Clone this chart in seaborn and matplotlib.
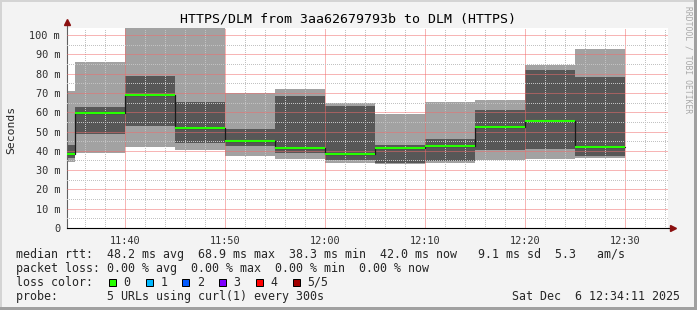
import matplotlib
matplotlib.use("Agg")
import matplotlib.pyplot as plt
import seaborn as sns
import pandas as pd
from matplotlib.patches import Rectangle
from matplotlib.ticker import MultipleLocator

# ---------------- data ----------------
step_starts = ["11:30", "11:35", "11:40", "11:45", "11:50", "11:55",
               "12:00", "12:05", "12:10", "12:15", "12:20", "12:25"]
step_end = "12:30"
ping_min = [34.4, 39.0, 42.0, 40.4, 37.5, 35.7, 33.8, 33.0, 33.8, 35.2, 35.6, 36.4]
ping_low = [36.4, 48.7, 52.8, 44.2, 42.5, 39.0, 35.2, 33.8, 34.9, 40.4, 40.8, 37.3]
ping_median = [38.3, 59.6, 68.9, 52.0, 45.2, 41.6, 38.3, 41.5, 42.3, 52.5, 55.6, 42.1]
ping_high = [43.0, 62.5, 78.8, 65.3, 51.3, 68.4, 63.2, 43.0, 46.1, 61.1, 81.9, 78.2]
ping_max = [71.1, 86.0, 104.0, 104.0, 69.9, 72.0, 64.8, 59.1, 65.3, 66.3, 84.5, 92.7]

x_tick_labels = ["11:40", "11:50", "12:00", "12:10", "12:20", "12:30"]
y_ticks = [0, 10, 20, 30, 40, 50, 60, 70, 80, 90, 100]
y_tick_labels = ["0", "10 m", "20 m", "30 m", "40 m", "50 m", "60 m", "70 m", "80 m", "90 m", "100 m"]
window_start = "11:34:11"
window_end = "12:34:17"

title = "HTTPS/DLM from 3aa62679793b to DLM (HTTPS)"
legend_rtt = "median rtt:  48.2 ms avg  68.9 ms max  38.3 ms min  42.0 ms now   9.1 ms sd  5.3   am/s"
legend_loss = "packet loss: 0.00 % avg  0.00 % max  0.00 % min  0.00 % now"
loss_labels = ["0", "1", "2", "3", "4", "5/5"]
loss_colors = ["#26ff00", "#00b8ff", "#0059ff", "#7e00ff", "#ff0000", "#a10000"]
probe_text = "probe:       5 URLs using curl(1) every 300s"
date_text = "Sat Dec  6 12:34:11 2025"
watermark = "RRDTOOL / TOBI OETIKER"


def to_min(s):
    p = s.split(":")
    sec = int(p[2]) if len(p) > 2 else 0
    return int(p[0]) * 60 + int(p[1]) + sec / 60.0


# ---------------- figure ----------------
sns.set_style("white")
plt.rcParams["font.family"] = ["DejaVu Sans Mono", "DejaVu Sans"]

W, H = 697, 310
BG = "#f3f3f3"
fig = plt.figure(figsize=(W / 100, H / 100), dpi=100, facecolor=BG)

ax_left, ax_right, ax_top, ax_bottom = 67, 668, 27.5, 228
ax = fig.add_axes([ax_left / W, (H - ax_bottom) / H,
                   (ax_right - ax_left) / W, (ax_bottom - ax_top) / H])
ax.set_facecolor("white")

starts = [to_min(s) for s in step_starts]
end = to_min(step_end)
xs = starts + [end]
ends = starts[1:] + [end]


def ext(v):
    return list(v) + [v[-1]]


ax.fill_between(xs, ext(ping_min), ext(ping_max), step="post",
                color="#a2a2a2", lw=0, zorder=1)
ax.fill_between(xs, ext(ping_low), ext(ping_high), step="post",
                color="#575757", lw=0, zorder=1.2)

df = pd.DataFrame({"t": xs, "median": ext(ping_median)})
sns.lineplot(data=df, x="t", y="median", ax=ax, drawstyle="steps-post",
             color="#1a1a1a", lw=0.9, zorder=4, legend=False)
ax.hlines(ping_median, starts, ends, colors="#26ff00", lw=1.5, zorder=5)

# axes limits / ticks
ax.set_xlim(to_min(window_start), to_min(window_end))
ax.set_ylim(0, 103.9)
ax.set_xlabel("")
ax.set_ylabel("")

ax.set_xticks([to_min(t) for t in x_tick_labels])
ax.set_xticklabels(x_tick_labels)
ax.xaxis.set_minor_locator(MultipleLocator(2))
ax.set_yticks(y_ticks)
ax.set_yticklabels(y_tick_labels)
ax.yaxis.set_minor_locator(MultipleLocator(5))

ax.tick_params(axis="both", which="major", labelsize=7.4, colors="#303030",
               length=3, width=0.7, direction="out", pad=2)
ax.tick_params(axis="both", which="minor", length=1.5, width=0.7,
               direction="out", colors="#606060")
ax.tick_params(axis="x", which="major", pad=3)

ax.set_axisbelow(False)
ax.grid(which="major", color="#f06c6c", lw=0.72, linestyle=(0, (1, 1)), zorder=2)
ax.grid(which="minor", color="#c2c2c2", lw=0.72, linestyle=(0, (1, 2)), zorder=2)
for axis in (ax.xaxis, ax.yaxis):
    for t in axis.get_minor_ticks():
        t.gridline.set_antialiased(False)

for side in ["top", "right"]:
    ax.spines[side].set_visible(False)
ax.spines["left"].set_color("#606060")
ax.spines["left"].set_linewidth(0.8)
ax.spines["bottom"].set_color("#000000")
ax.spines["bottom"].set_linewidth(0.8)

# axis arrows
ax.plot([0, 0], [1, 1.02], transform=ax.transAxes, color="#606060", lw=0.8, clip_on=False)
ax.plot([0], [1.025], marker="^", ms=4.5, color="#8b1010", transform=ax.transAxes,
        clip_on=False, zorder=10)
ax.plot([1, 1.005], [0, 0], transform=ax.transAxes, color="#000000", lw=0.8, clip_on=False)
ax.plot([1.0075], [0], marker=">", ms=4.5, color="#8b1010", transform=ax.transAxes,
        clip_on=False, zorder=10)


def ftext(x, y, s, **kw):
    fig.text(x / W, 1 - y / H, s, **kw)


ftext(348, 19.5, title, ha="center", va="center", fontsize=9.5, color="#000000")
ftext(11, 130, "Seconds", rotation=90, ha="center", va="center", fontsize=8.2)
ftext(688, 60, watermark, rotation=270, ha="center", va="center", fontsize=5.8,
      color="#a8a8a8")

LFS = 8.4
ftext(16, 254.3, legend_rtt, ha="left", va="center", fontsize=LFS)
ftext(16, 268.3, legend_loss, ha="left", va="center", fontsize=LFS)
ftext(16, 282.2, "loss color:", ha="left", va="center", fontsize=LFS)
ftext(16, 296.2, probe_text, ha="left", va="center", fontsize=LFS)
ftext(680, 296.2, date_text, ha="right", va="center", fontsize=LFS)

box_x = [108.7, 145.7, 182.3, 219.0, 256.0, 293.0]
for bx, lab, col in zip(box_x, loss_labels, loss_colors):
    fig.add_artist(Rectangle((bx / W, 1 - 286 / H), 7 / W, 7 / H,
                             transform=fig.transFigure, facecolor=col,
                             edgecolor="black", lw=0.72))
    ftext(bx + 14.5, 282.2, lab, ha="left", va="center", fontsize=LFS)

# 3D frame
fig.add_artist(Rectangle((0, 1 - 2 / H), 1, 2 / H, transform=fig.transFigure,
                         facecolor="#d4d4d4", lw=0))
fig.add_artist(Rectangle((0, 0), 2 / W, 1, transform=fig.transFigure,
                         facecolor="#d4d4d4", lw=0))
fig.add_artist(Rectangle((0, 0), 1, 3 / H, transform=fig.transFigure,
                         facecolor="#a0a0a0", lw=0))
fig.add_artist(Rectangle((1 - 3 / W, 0), 3 / W, 1, transform=fig.transFigure,
                         facecolor="#a0a0a0", lw=0))

fig.savefig("out.png", dpi=100, facecolor=BG)
